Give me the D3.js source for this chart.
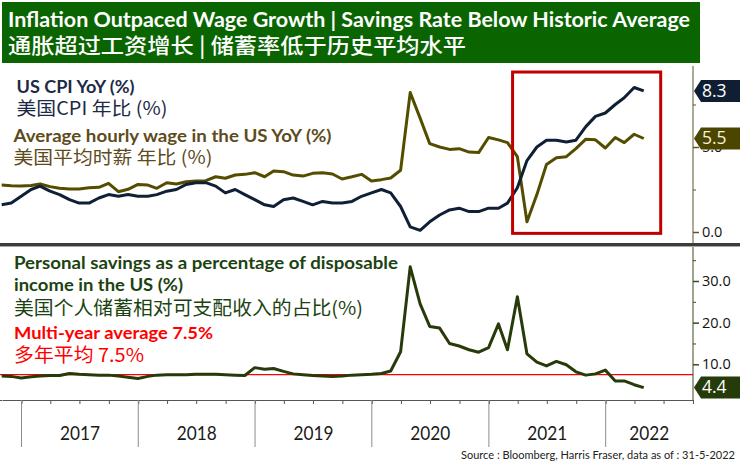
<!DOCTYPE html>
<html><head><meta charset="utf-8">
<script src="https://cdn.jsdelivr.net/npm/d3@7"></script>
<style>body{margin:0;background:#fff} svg{display:block}</style>
</head><body><svg id="c" width="740" height="467"></svg>
<script>
// ---------- DATA ----------
const months = [
 "2016-10","2016-11","2016-12",
 "2017-01","2017-02","2017-03","2017-04","2017-05","2017-06","2017-07","2017-08","2017-09","2017-10","2017-11","2017-12",
 "2018-01","2018-02","2018-03","2018-04","2018-05","2018-06","2018-07","2018-08","2018-09","2018-10","2018-11","2018-12",
 "2019-01","2019-02","2019-03","2019-04","2019-05","2019-06","2019-07","2019-08","2019-09","2019-10","2019-11","2019-12",
 "2020-01","2020-02","2020-03","2020-04","2020-05","2020-06","2020-07","2020-08","2020-09","2020-10","2020-11","2020-12",
 "2021-01","2021-02","2021-03","2021-04","2021-05","2021-06","2021-07","2021-08","2021-09","2021-10","2021-11","2021-12",
 "2022-01","2022-02","2022-03","2022-04"];
const cpi = [
 1.6,1.7,2.1,
 2.5,2.7,2.4,2.2,1.9,1.7,1.7,2.0,2.2,2.1,2.2,2.1,
 2.1,2.2,2.4,2.5,2.8,2.9,2.9,2.7,2.3,2.5,2.2,1.9,
 1.6,1.5,1.9,2.0,1.8,1.6,1.8,1.7,1.7,1.8,2.1,2.3,
 2.5,2.3,1.5,0.3,0.1,0.6,1.0,1.3,1.4,1.2,1.2,1.4,
 1.4,1.7,2.6,4.2,5.0,5.4,5.4,5.3,5.4,6.2,6.8,7.0,
 7.5,7.9,8.5,8.3];
const wage = [
 2.76,2.72,2.70,
 2.74,2.82,2.67,2.57,2.53,2.53,2.60,2.63,2.86,2.37,2.51,2.80,
 2.76,2.57,2.90,2.82,2.96,3.00,3.02,3.25,3.16,3.35,3.39,3.49,
 3.25,3.59,3.55,3.35,3.29,3.45,3.49,3.41,3.12,3.25,3.39,3.00,
 3.08,3.18,3.63,8.20,6.70,5.20,5.00,4.86,4.90,4.70,4.67,5.56,
 5.42,5.26,4.43,0.60,2.20,3.97,4.37,4.43,4.90,5.46,5.42,4.94,
 5.56,5.26,5.75,5.50];
const savings = [
 7.2,7.1,6.7,
 7.0,7.2,7.3,7.3,7.8,7.6,7.5,7.4,7.4,7.2,6.9,6.6,
 7.1,7.4,7.5,7.5,7.5,7.6,7.6,7.6,7.5,7.4,7.3,9.2,
 8.8,9.0,8.3,7.7,7.5,7.3,7.2,7.1,7.2,7.4,7.5,7.6,
 7.8,8.4,13.0,33.4,24.5,19.1,18.7,15.0,14.4,13.5,12.9,14.0,
 19.7,13.5,26.2,12.5,10.5,9.6,10.7,9.9,8.2,7.4,7.7,8.6,
 6.0,6.0,5.1,4.4];
const savingsAvg = 7.5;
const years = [2017,2018,2019,2020,2021,2022];
const topMajor = [0,5], topMinor = [2.5,7.5];
const botMajor = [10,20,30], botMinor = [15,25,35];
const lastCpi = "8.3", lastWage = "5.5", lastSav = "4.4";

// ---------- SETUP ----------
const svg = d3.select("#c");
const parseM = d3.utcParse("%Y-%m");
const monthEnd = m => d3.utcDay.offset(d3.utcMonth.offset(parseM(m),1),-1);
const x = d3.scaleUtc().domain([new Date(Date.UTC(2016,10,1)), new Date(Date.UTC(2022,9,1))]).range([2,693]);
const yTop = d3.scaleLinear().domain([0,5]).range([232,147]);
const yBot = d3.scaleLinear().domain([10,30]).range([364.3,281]);
const AX = 693;

const LAT = "Lato, 'Open Sans', sans-serif";
const CJK = "'Noto Sans CJK SC', 'Noto Sans', sans-serif";
function label(g, s, xx, yy, o){
  const t = g.append("text").attr("x",xx).attr("y",yy).text(s)
    .attr("font-family",o.family||LAT).attr("font-size",o.size)
    .attr("font-weight",o.weight||400).attr("fill",o.fill||"#000");
  if(o.anchor) t.attr("text-anchor",o.anchor);
  if(o.len) t.attr("textLength",o.len).attr("lengthAdjust","spacingAndGlyphs");
  if(o.db) t.attr("dominant-baseline",o.db);
  return t;
}

// Title
svg.append("rect").attr("x",2).attr("y",2).attr("width",698).attr("height",61).attr("fill","#0a6400");
label(svg,"Inflation Outpaced Wage Growth | Savings Rate Below Historic Average",8,27,{size:21,weight:700,fill:"#fff",len:682});
label(svg,"通胀超过工资增长 | 储蓄率低于历史平均水平",8,53,{size:21,weight:500,fill:"#fff",family:CJK,len:458});

// clip paths
const defs = svg.append("defs");
defs.append("clipPath").attr("id","ct").append("rect").attr("x",0).attr("y",66).attr("width",AX).attr("height",177);
defs.append("clipPath").attr("id","cb").append("rect").attr("x",0).attr("y",247).attr("width",AX).attr("height",153);

const cpiD = months.map((m,i)=>({d:monthEnd(m),v:cpi[i]}));
const wageD = months.map((m,i)=>({d:monthEnd(m),v:wage[i]}));
const savD = months.map((m,i)=>({d:monthEnd(m),v:savings[i]}));

// Top panel
const gt = svg.append("g").attr("clip-path","url(#ct)");
const lt = d3.line().x(d=>x(d.d)).y(d=>yTop(d.v));
gt.append("path").datum(wageD).attr("d",lt).attr("fill","none").attr("stroke","#544d00").attr("stroke-width",3).attr("stroke-linejoin","round");
gt.append("path").datum(cpiD).attr("d",lt).attr("fill","none").attr("stroke","#0f2036").attr("stroke-width",3).attr("stroke-linejoin","round");

// red highlight box
const bx0 = x(new Date(Date.UTC(2021,2,16))), bx1 = x(new Date(Date.UTC(2022,5,22)));
const by0 = yTop(9.41), by1 = yTop(-0.08);
svg.append("rect").attr("x",bx0).attr("y",by0).attr("width",bx1-bx0).attr("height",by1-by0)
  .attr("fill","none").attr("stroke","#c00000").attr("stroke-width",3);

label(svg,"US CPI YoY (%)",16.5,92.5,{size:16.5,weight:700,fill:"#1c2a46",len:118});
label(svg,"美国CPI 年比 (%)",16.5,115,{size:18.5,fill:"#1c2a46",family:CJK,len:151});
label(svg,"Average hourly wage in the US YoY (%)",13.5,141.5,{size:16.5,weight:700,fill:"#5e4b1c",len:318});
label(svg,"美国平均时薪 年比 (%)",13.5,164,{size:18.5,fill:"#5e4b1c",family:CJK,len:199});

// separator bar
svg.append("rect").attr("x",0).attr("y",243).attr("width",740).attr("height",3).attr("fill","#3c3c3c");
svg.append("line").attr("x1",0).attr("x2",740).attr("y1",246.5).attr("y2",246.5).attr("stroke","#a8a8a8").attr("stroke-width",1);

// Bottom panel
const gb = svg.append("g").attr("clip-path","url(#cb)");
gb.append("line").attr("x1",0).attr("x2",AX).attr("y1",yBot(savingsAvg)).attr("y2",yBot(savingsAvg)).attr("stroke","#ff0000").attr("stroke-width",1.2);
const lb = d3.line().x(d=>x(d.d)).y(d=>yBot(d.v));
gb.append("path").datum(savD).attr("d",lb).attr("fill","none").attr("stroke","#263a0a").attr("stroke-width",3).attr("stroke-linejoin","round");

label(svg,"Personal savings as a percentage of disposable",14,269,{size:16.5,weight:700,fill:"#1b4311",len:384});
label(svg,"income in the US (%)",14,291,{size:16.5,weight:700,fill:"#1b4311",len:169});
label(svg,"美国个人储蓄相对可支配收入的占比(%)",14,314.5,{size:19,fill:"#1b4311",family:CJK,len:349});
label(svg,"Multi-year average 7.5%",14,339,{size:17,weight:700,fill:"#ff0000",len:199});
label(svg,"多年平均 7.5%",14,362,{size:19,fill:"#ff0000",family:CJK,len:130});

// Right axes
svg.append("line").attr("x1",AX).attr("x2",AX).attr("y1",66).attr("y2",243).attr("stroke","#5a5530").attr("stroke-width",1);
svg.append("line").attr("x1",AX).attr("x2",AX).attr("y1",247).attr("y2",400).attr("stroke","#3d4a20").attr("stroke-width",1);
function rAxis(scale, major, minor, col){
  const g1 = svg.append("g").attr("transform",`translate(${AX},0)`)
    .call(d3.axisRight(scale).tickValues(major).tickSize(6).tickPadding(3).tickFormat(d3.format(".1f")));
  g1.select(".domain").remove();
  g1.selectAll("line").attr("stroke",col).attr("stroke-width",1.5);
  g1.selectAll("text").attr("font-family","'Open Sans', sans-serif").attr("font-size",14.5).attr("fill","#111");
  const g2 = svg.append("g").attr("transform",`translate(${AX},0)`)
    .call(d3.axisRight(scale).tickValues(minor).tickSize(3).tickFormat(""));
  g2.select(".domain").remove();
  g2.selectAll("line").attr("stroke",col);
}
rAxis(yTop, topMajor, topMinor, "#5a5530");
rAxis(yBot, botMajor, botMinor, "#3d4a20");

// value tags
function tag(yv, s, fill, tc){
  svg.append("polygon").attr("points",[[694,yv],[701,yv-11],[740,yv-11],[740,yv+11],[701,yv+11]].map(p=>p.join(",")).join(" "))
    .attr("fill",fill);
  label(svg,s,702,yv+1,{size:17.5,fill:tc,family:"'Open Sans', sans-serif",db:"middle"});
}
tag(yTop(+lastCpi), lastCpi, "#0f1e33", "#ffffff");
tag(yTop(+lastWage), lastWage, "#4b4500", "#f4f0d8");
tag(yBot(+lastSav), lastSav, "#263b0a", "#ffffff");

// X axis
const gx = svg.append("g").attr("transform","translate(0,400)")
  .call(d3.axisBottom(x).ticks(d3.utcMonth.every(3)).tickSize(4).tickSizeOuter(0).tickFormat(""));
gx.select(".domain").attr("stroke","#555");
gx.selectAll(".tick line").attr("stroke","#555");
gx.selectAll(".tick").filter(d=>d<=x.domain()[0]).remove();
svg.append("line").attr("x1",0).attr("x2",2).attr("y1",400.5).attr("y2",400.5).attr("stroke","#555");
years.forEach(yr=>{
  const a = x(new Date(Date.UTC(yr,0,1)));
  const b = Math.min(x(new Date(Date.UTC(yr+1,0,1))), AX);
  svg.append("line").attr("x1",a).attr("x2",a).attr("y1",400).attr("y2",447).attr("stroke","#8c8c8c").attr("stroke-width",1);
  label(svg,String(yr),(a+b)/2,440,{size:19,fill:"#1a1a1a",anchor:"middle",len:40});
});

label(svg,"Source : Bloomberg, Harris Fraser, data as of : 31-5-2022",461,459,{size:11.5,fill:"#222",len:274});
</script></body></html>
